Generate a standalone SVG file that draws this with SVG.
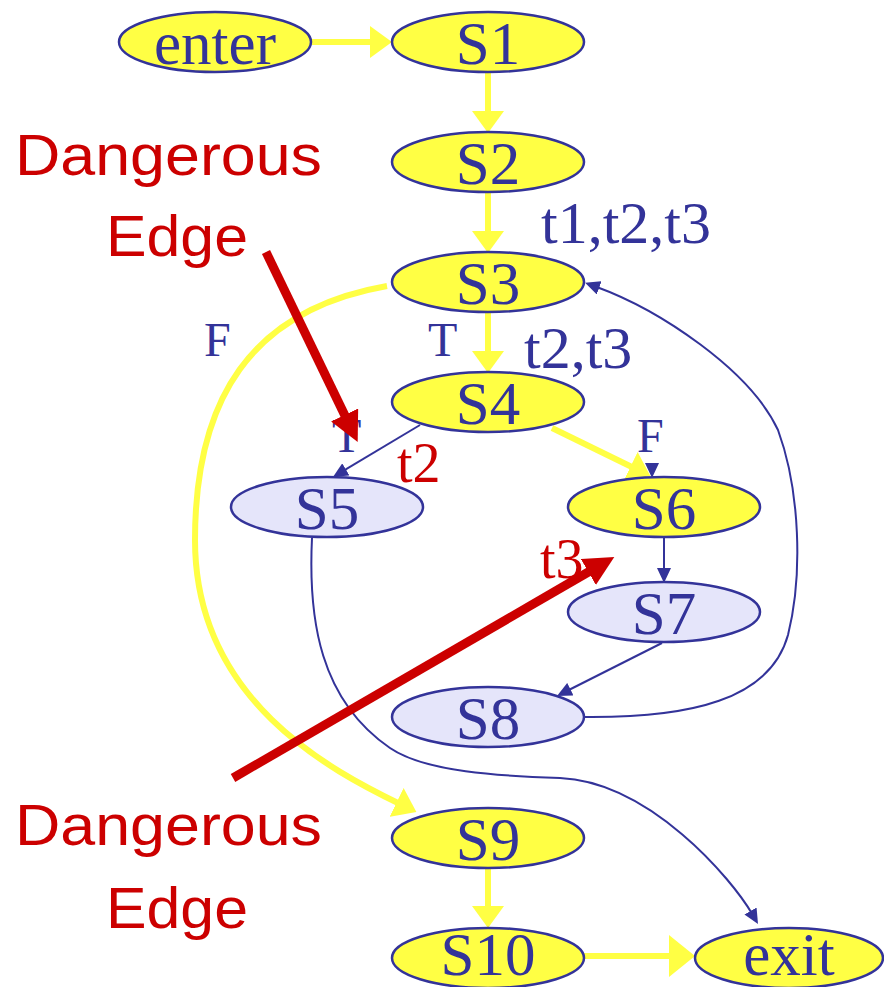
<svg xmlns="http://www.w3.org/2000/svg" width="884" height="987" viewBox="0 0 884 987">
<style>
.node{stroke:#333399;stroke-width:2.5}
.y{fill:#FFFF44}
.l{fill:#E5E5FA}
.nt{font-family:"Liberation Serif","Times New Roman",serif;font-size:61px;fill:#333399;text-anchor:middle}
.lab{font-family:"Liberation Serif","Times New Roman",serif;fill:#333399}
.rl{font-family:"Liberation Serif","Times New Roman",serif;fill:#CC0000;font-size:56px}
.red{font-family:"Liberation Sans",Arial,sans-serif;font-size:58px;fill:#CC0000}
.be{fill:none;stroke:#333399;stroke-width:2}
.ye{fill:none;stroke:#FFFF44;stroke-width:6}
.re{fill:none;stroke:#CC0000;stroke-width:9}
</style>
<defs>
<marker id="ya" viewBox="0 -16 22 32" refX="6" refY="0" markerWidth="22" markerHeight="32" markerUnits="userSpaceOnUse" orient="auto"><path d="M0,-16 L22,0 L0,16 z" fill="#FFFF44"/></marker>
<marker id="yaL" viewBox="0 -21 26 42" refX="8" refY="0" markerWidth="26" markerHeight="42" markerUnits="userSpaceOnUse" orient="auto"><path d="M0,-21 L26,0 L0,21 z" fill="#FFFF44"/></marker>
<marker id="ba" viewBox="0 -7 15 14" refX="4" refY="0" markerWidth="15" markerHeight="14" markerUnits="userSpaceOnUse" orient="auto"><path d="M0,-7 L15,0 L0,7 z" fill="#333399"/></marker>
<marker id="ra" viewBox="0 -15 30 30" refX="10" refY="0" markerWidth="30" markerHeight="30" markerUnits="userSpaceOnUse" orient="auto"><path d="M0,-15 L30,0 L0,15 z" fill="#CC0000"/></marker>
<path id="bh" d="M-7,-15 L7,-15 L0,0 z" fill="#333399"/>
</defs>

<g id="connectors">
  <path class="be" d="M420,425 L342.4,471.4" marker-end="url(#ba)"/>
  <path class="be" d="M664,537 L664,572" marker-end="url(#ba)"/>
  <path class="be" d="M662,643 L566.8,691" marker-end="url(#ba)"/>
  <path class="be" d="M584,717 C690,718 770,700 788,635 C803,575 800,490 778,430 C750,370 660,310 595.4,286.5" marker-end="url(#ba)"/>
  <path class="be" d="M312,538 C308,620 320,700 390,748 C425,772 500,776 560,778 C650,782 732,879 752.5,914.5" marker-end="url(#ba)"/>
  <use href="#bh" x="488" y="133"/>
  <use href="#bh" x="488" y="253"/>
  <use href="#bh" x="488" y="373"/>
  <use href="#bh" x="652" y="478"/>
  <use href="#bh" x="488" y="928"/>
  <path class="ye" d="M312,42 L376,42" stroke-width="7" marker-end="url(#ya)"/>
  <path class="ye" d="M488,72 L488,117" marker-end="url(#ya)"/>
  <path class="ye" d="M488,192 L488,237" marker-end="url(#ya)"/>
  <path class="ye" d="M488,312 L488,357" marker-end="url(#ya)"/>
  <path class="ye" d="M552,428 L636,469" marker-end="url(#ya)"/>
  <path class="ye" d="M488,868 L488,912" marker-end="url(#ya)"/>
  <path class="ye" d="M584,956 L677,956" stroke-width="8" marker-end="url(#yaL)"/>
  <path class="ye" stroke-width="7" d="M387,286 C250,310 195,400 195,540 C195,700 330,770 402,805" marker-end="url(#ya)"/>
</g>

<g id="enter"><ellipse class="node y" cx="215" cy="42" rx="96" ry="30"/><text class="nt" x="215" y="64">enter</text></g>
<g id="S1"><ellipse class="node y" cx="488" cy="42" rx="96" ry="30"/><text class="nt" x="488" y="64">S1</text></g>
<g id="S2"><ellipse class="node y" cx="488" cy="162" rx="96" ry="30"/><text class="nt" x="488" y="184">S2</text></g>
<g id="S3"><ellipse class="node y" cx="488" cy="282" rx="96" ry="30"/><text class="nt" x="488" y="304">S3</text></g>
<g id="S4"><ellipse class="node y" cx="488" cy="402" rx="96" ry="30"/><text class="nt" x="488" y="424">S4</text></g>
<g id="S5"><ellipse class="node l" cx="327" cy="507" rx="96" ry="30"/><text class="nt" x="327" y="529">S5</text></g>
<g id="S6"><ellipse class="node y" cx="664" cy="507" rx="96" ry="30"/><text class="nt" x="664" y="529">S6</text></g>
<g id="S7"><ellipse class="node l" cx="664" cy="612" rx="96" ry="30"/><text class="nt" x="664" y="634">S7</text></g>
<g id="S8"><ellipse class="node l" cx="488" cy="717" rx="96" ry="30"/><text class="nt" x="488" y="739">S8</text></g>
<g id="S9"><ellipse class="node y" cx="488" cy="838" rx="96" ry="30"/><text class="nt" x="488" y="860">S9</text></g>
<g id="S10"><ellipse class="node y" cx="488" cy="958" rx="96" ry="30"/><text class="nt" x="488" y="975">S10</text></g>
<g id="exit"><ellipse class="node y" cx="789" cy="958" rx="94" ry="30"/><text class="nt" x="789" y="975">exit</text></g>

<g id="labels">
  <text class="lab" x="541" y="243" font-size="60">t1,t2,t3</text>
  <text class="lab" x="524" y="368" font-size="60">t2,t3</text>
  <text class="lab" x="428" y="356" font-size="48">T</text>
  <text class="lab" x="204" y="356" font-size="48">F</text>
  <text class="lab" x="332" y="452" font-size="48">T</text>
  <text class="lab" x="637" y="452" font-size="48">F</text>
  <text class="rl" x="397" y="482">t2</text>
  <text class="rl" x="540" y="578">t3</text>
</g>

<g id="dangerous-top">
  <text class="red" x="15" y="175" textLength="307" lengthAdjust="spacingAndGlyphs">Dangerous</text>
  <text class="red" x="106" y="256" textLength="142" lengthAdjust="spacingAndGlyphs">Edge</text>
  <path class="re" d="M266,252 L349,424" marker-end="url(#ra)"/>
</g>
<g id="dangerous-bottom">
  <text class="red" x="15" y="845" textLength="307" lengthAdjust="spacingAndGlyphs">Dangerous</text>
  <text class="red" x="106" y="928" textLength="142" lengthAdjust="spacingAndGlyphs">Edge</text>
  <path class="re" d="M233,778 L597,567" marker-end="url(#ra)"/>
</g>
</svg>
